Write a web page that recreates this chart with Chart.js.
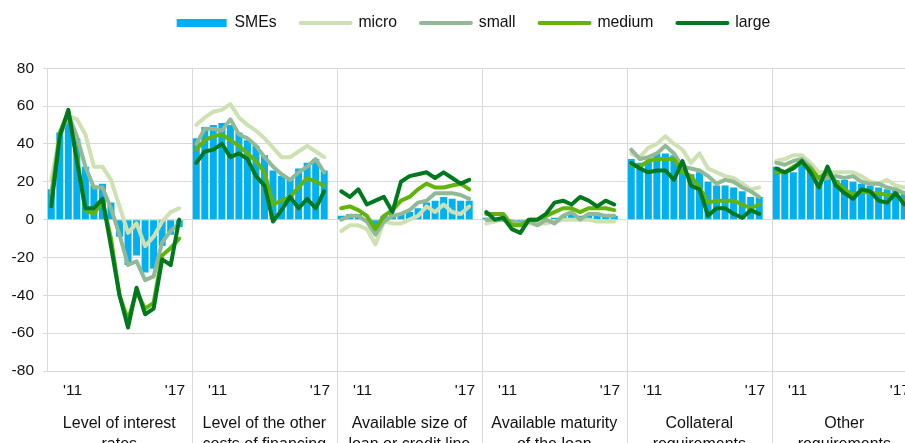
<!DOCTYPE html>
<html><head><meta charset="utf-8">
<script src="https://cdn.jsdelivr.net/npm/chart.js@4.4.1/dist/chart.umd.min.js"></script>
<style>
html,body{margin:0;padding:0;overflow:hidden;background:#fff;width:905px;height:443px}
#wrap{position:absolute;left:0;top:0;width:917px;height:460px}
</style>
</head><body><div id="wrap"><canvas id="c"></canvas></div>
<script>
// ---- data ----
const categories = [
  ["Level of interest", "rates"],
  ["Level of the other", "costs of financing"],
  ["Available size of", "loan or credit line"],
  ["Available maturity", "of the loan"],
  ["Collateral", "requirements"],
  ["Other", "requirements"]
];
const periods = ['2010H1','2010H2','2011H1','2011H2','2012H1','2012H2','2013H1','2013H2',
                 '2014H1','2014H2','2015H1','2015H2','2016H1','2016H2','2017H1','2017H2'];
const yearTicks = ["'11", "'17"];
const seriesNames = ['SMEs', 'micro', 'small', 'medium', 'large'];

const smes = [
  [16, 46, 55, 43, 28, 18, 19, 9, -9, -24, -19, -28, -26, -14, -8, -4],
  [43, 49, 50, 51, 50, 46, 42, 39, 34, 26, 23, 22, 27, 30, 32, 26],
  [2, 3, 3, -1, -7, 2, 3, 3, 4, 6, 9, 10, 12, 11, 10, 10],
  [1, 0, 1, -2, -3, 0, 0, 0, 1, 2, 3, 2, 3, 3, 2, 2],
  [32, 30, 31, 35, 35, 34, 29, 24, 25, 20, 18, 18, 17, 15, 12, 12],
  [28, 25, 25, 30, 27, 21, 24, 21, 21, 20, 19, 18, 17, 16, 16, 14]
];
const micro = [
  [21, 45, 55, 53, 45, 28, 28, 21, 7, -7, -2, -14, -9, -1, 4, 6],
  [50, 54, 57, 58, 61, 54, 50, 47, 43, 38, 33, 33, 36, 39, 36, 33],
  [-6, -3, -3, -5, -13, -1, -2, -2, 0, 2, 7, 4, 8, 4, 3, 7],
  [-2, -1, 0, -2, -3, -2, -2, -2, -1, 0, 0, 0, 0, -1, -1, -1],
  [35, 33, 38, 40, 44, 40, 37, 30, 35, 27, 25, 23, 22, 19, 16, 17],
  [31, 32, 34, 34, 30, 25, 25, 25, 25, 25, 23, 20, 19, 21, 18, 17]
];
const small = [
  [14, 44, 56, 44, 28, 17, 17, 6, -8, -24, -22, -32, -30, -12, -6, -2],
  [40, 48, 48, 47, 53, 45, 43, 39, 33, 28, 24, 21, 25, 28, 32, 25],
  [0, 2, 2, -1, -8, -1, 2, 3, 5, 9, 10, 14, 14, 14, 13, 11],
  [0, 0, 0, -1, -2, -1, -3, 0, -2, 2, 4, 0, 3, 3, 2, 2],
  [37, 32, 33, 35, 39, 35, 28, 27, 26, 23, 19, 21, 20, 17, 15, 12],
  [30, 29, 31, 32, 28, 21, 22, 23, 22, 23, 20, 19, 19, 17, 16, 14]
];
const medium = [
  [9, 46, 57, 33, 5, 3, 10, -10, -40, -53, -38, -47, -44, -19, -15, -10],
  [37, 42, 44, 45, 42, 39, 35, 31, 25, 8, 10, 12, 17, 22, 20, 18],
  [6, 7, 5, 2, -5, 2, 5, 10, 12, 16, 19, 17, 17, 18, 19, 16],
  [3, 3, 3, -3, -3, 0, 0, 2, 4, 6, 6, 4, 6, 6, 6, 5],
  [29, 28, 31, 32, 32, 32, 25, 23, 17, 9, 10, 10, 10, 8, 6, 8],
  [25, 25, 28, 30, 27, 22, 25, 20, 16, 13, 15, 14, 14, 13, 13, 10]
];
const large = [
  [7, 44, 58, 31, 6, 6, 11, -14, -40, -57, -36, -50, -47, -21, -24, 0],
  [30, 36, 37, 40, 33, 35, 32, 23, 18, -1, 5, 12, 6, 11, 6, 15],
  [15, 12, 16, 8, 10, 12, 4, 20, 23, 24, 25, 22, 25, 22, 19, 21],
  [4, 0, 1, -5, -7, 0, 0, 3, 9, 10, 8, 12, 10, 7, 10, 8],
  [30, 27, 25, 26, 26, 21, 31, 18, 16, 2, 6, 6, 3, 1, 5, 3],
  [27, 25, 27, 31, 25, 17, 28, 18, 14, 11, 16, 15, 10, 9, 14, 8]
];
const yTicks = [-80, -60, -40, -20, 0, 20, 40, 60, 80];

// ---- styles ----
const colors = ['#00b0f0', '#cde1b3', '#91b996', '#62b40a', '#00781e'];
const FONT = "'Liberation Sans', Arial, sans-serif";
const TEXT = '#111111';
const GRID = '#d9d9d9';

// ---- build flattened series (one empty slot after each group) ----
const slot = periods.length + 1;
const xLabels = [];
categories.forEach((c) => {
  periods.forEach(d => xLabels.push(c.join(' ') + ' ' + d));
  xLabels.push(c.join(' ') + ' gap');
});
function flat(arr) {
  const out = [];
  arr.forEach(g => { g.forEach(v => out.push(v)); out.push(null); });
  return out;
}
const seriesData = [smes, micro, small, medium, large].map(flat);

// year marks sit between the two half-years of the year (label offset by half a slot)
const yearIdx = yearTicks.map(yl => periods.findIndex(d => d.startsWith('20' + yl.slice(1))));
const catIdx = Math.floor(slot / 2);
function tickKind(i) {
  const w = i % slot;
  if (yearIdx.includes(w)) return 'year';
  if (w === catIdx) return 'cat';
  return '';
}
function tickText(i) {
  const w = i % slot, p = Math.floor(i / slot);
  const k = yearIdx.indexOf(w);
  if (k >= 0) return yearTicks[k];
  if (w === catIdx && categories[p]) return ['', '', categories[p][0] + '  ', categories[p][1] + '  '];
  return '';
}

const datasets = seriesNames.map((name, k) => {
  if (k === 0) {
    return {
      type: 'bar', label: name, data: seriesData[k], backgroundColor: colors[k],
      borderWidth: 0, categoryPercentage: 1, barPercentage: 0.82, order: 10
    };
  }
  return {
    type: 'line', label: name, data: seriesData[k], borderColor: colors[k],
    backgroundColor: colors[k], borderWidth: 4, pointRadius: 0, pointHoverRadius: 0,
    fill: false, spanGaps: false, tension: 0, borderJoinStyle: 'round', borderCapStyle: 'round',
    order: 10 - k
  };
});

const sepColor = ctx => (ctx.index > 0 && ctx.index % slot === 0) ? GRID : 'rgba(0,0,0,0)';

new Chart(document.getElementById('c'), {
  type: 'bar',
  data: { labels: xLabels, datasets },
  options: {
    responsive: true, maintainAspectRatio: false, animation: false, devicePixelRatio: 1,
    events: [],
    layout: { padding: { left: 30, right: 0, top: -8.9, bottom: 0 } },
    plugins: {
      tooltip: { enabled: false },
      legend: {
        display: true, position: 'top', align: 'center',
        labels: {
          usePointStyle: true, pointStyleWidth: 50, boxHeight: 8, padding: 24,
          color: TEXT, font: { family: FONT, size: 15.75 },
          generateLabels(chart) {
            const items = Chart.defaults.plugins.legend.labels.generateLabels(chart);
            items.sort((a, b) => a.datasetIndex - b.datasetIndex);
            items.forEach(it => {
              const ds = chart.data.datasets[it.datasetIndex];
              if (ds.type === 'bar') {
                it.pointStyle = 'rect'; it.lineWidth = 0; it.fillStyle = ds.backgroundColor;
              } else {
                it.pointStyle = 'line'; it.strokeStyle = ds.borderColor; it.lineWidth = 4; it.lineCap = 'round';
              }
            });
            return items;
          }
        }
      }
    },
    scales: {
      x: {
        type: 'category', position: 'bottom', offset: true,
        grid: { display: true, offset: true, drawOnChartArea: true, drawTicks: true, tickLength: 89,
                color: sepColor, tickColor: sepColor, lineWidth: 1 },
        border: { display: false },
        ticks: {
          autoSkip: false, maxRotation: 0, minRotation: 0, padding: -88.5, labelOffset: 4.265,
          color: TEXT,
          font: ctx => tickKind(ctx.index) === 'cat'
            ? { family: FONT, size: 16, lineHeight: '21px' }
            : { family: FONT, size: 15.5, lineHeight: '39px' },
          callback: (v, i) => tickText(i)
        },
        afterFit: a => { a.height = 89; }
      },
      xtop: {
        type: 'linear', position: 'top', display: true,
        grid: { display: false }, border: { display: false }, ticks: { display: false },
        afterFit: a => { a.height = 27.4; }
      },
      y: {
        type: 'linear', position: 'left', min: yTicks[0], max: yTicks[yTicks.length - 1],
        afterBuildTicks: a => { a.ticks = yTicks.map(v => ({ value: v })); },
        ticks: { mirror: true, crossAlign: 'far', padding: -35.4, color: TEXT,
                 font: { family: FONT, size: 15.5 } },
        grid: { color: GRID, lineWidth: 1, tickLength: 4 },
        border: { display: true, color: GRID },
        afterFit: a => { a.width = 17; }
      }
    }
  }
});
</script>
</body></html>
